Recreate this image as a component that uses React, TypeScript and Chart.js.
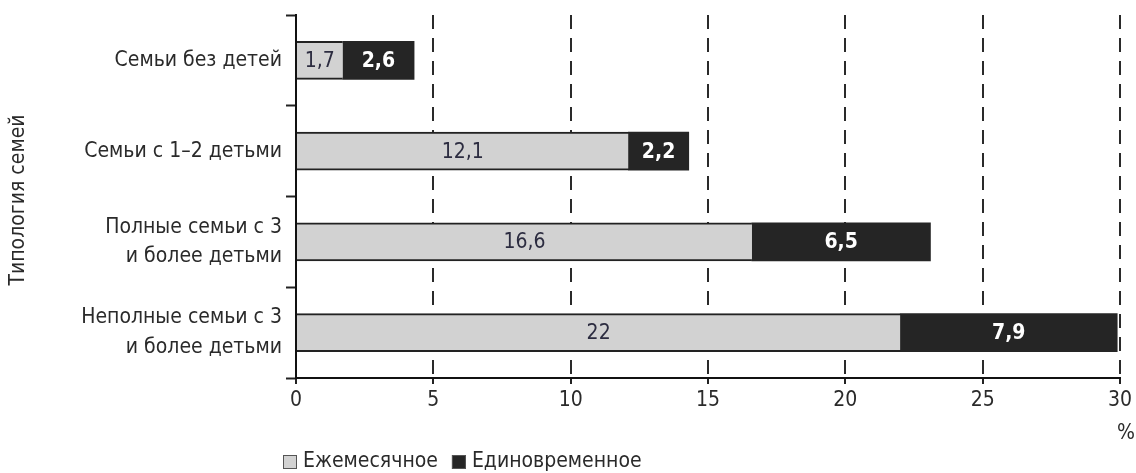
import React, { useEffect, useRef } from "react";
import { Chart, registerables } from "chart.js";

Chart.register(...registerables);

const categories: string[][] = [
  ["Семьи без детей"],
  ["Семьи с 1–2 детьми"],
  ["Полные семьи с 3", "и более детьми"],
  ["Неполные семьи с 3", "и более детьми"],
];
const seriesNames = ["Ежемесячное", "Единовременное"];
const monthly = [1.7, 12.1, 16.6, 22];
const oneTime = [2.6, 2.2, 6.5, 7.9];
const xMin = 0;
const xMax = 30;
const xStep = 5;
const yTitle = "Типология семей";
const unitLabel = "%";

const FONT = '"Liberation Sans Narrow", "DejaVu Sans Condensed", "Liberation Sans", sans-serif';
const GRAY = "#d2d2d2";
const BLACK = "#252525";
const INK = "#2a2a2a";

export default function App() {
  const ref = useRef<HTMLCanvasElement>(null);

  useEffect(() => {
    const canvas = ref.current;
    if (!canvas) return;
    const fmt = (v: number) => String(v).replace(".", ",");

    const overlay = {
      id: "overlay",
      afterDraw(chart: any) {
        const ctx = chart.ctx as CanvasRenderingContext2D;
        // value labels
        chart.data.datasets.forEach((ds: any, di: number) => {
          const meta = chart.getDatasetMeta(di);
          meta.data.forEach((bar: any, i: number) => {
            const v = ds.data[i] as number;
            const p = bar.getProps(["x", "y", "base"], true);
            const cx = (p.x + p.base) / 2;
            ctx.save();
            ctx.font = `${di === 0 ? "normal" : "bold"} 21px ${FONT}`;
            ctx.fillStyle = di === 0 ? "#2c2c40" : "#ffffff";
            ctx.textAlign = "center";
            ctx.textBaseline = "middle";
            ctx.fillText(fmt(v), cx, p.y + 1);
            ctx.restore();
          });
        });
        const area = chart.chartArea;
        // y-axis title
        ctx.save();
        ctx.translate(19, 200);
        ctx.rotate(-Math.PI / 2);
        ctx.font = `21px ${FONT}`;
        ctx.fillStyle = INK;
        ctx.textAlign = "center";
        ctx.textBaseline = "middle";
        ctx.fillText(yTitle, 0, 0);
        ctx.restore();
        // unit label
        ctx.save();
        ctx.font = `21px ${FONT}`;
        ctx.fillStyle = INK;
        ctx.textAlign = "center";
        ctx.textBaseline = "middle";
        ctx.fillText(unitLabel, area.right + 6, 434);
        ctx.restore();
        // legend
        ctx.save();
        ctx.font = `21px ${FONT}`;
        ctx.textBaseline = "middle";
        ctx.textAlign = "left";
        let lx = 283;
        const ly = 462;
        chart.data.datasets.forEach((ds: any) => {
          ctx.fillStyle = ds.backgroundColor;
          ctx.fillRect(lx, ly - 7, 14, 14);
          ctx.strokeStyle = "#555";
          ctx.lineWidth = 1;
          ctx.strokeRect(lx + 0.5, ly - 6.5, 13, 13);
          ctx.fillStyle = INK;
          ctx.fillText(ds.label, lx + 20, ly);
          lx += 20 + ctx.measureText(ds.label).width + 14;
        });
        ctx.restore();
      },
    };

    const chart = new Chart(canvas, {
      type: "bar",
      data: {
        labels: categories,
        datasets: [
          {
            label: seriesNames[0],
            data: monthly,
            backgroundColor: GRAY,
            borderColor: "#222",
            borderWidth: { top: 2, bottom: 2, left: 0, right: 0 } as any,
            borderSkipped: false,
            barThickness: 38,
          },
          {
            label: seriesNames[1],
            data: oneTime,
            backgroundColor: BLACK,
            borderWidth: 0,
            barThickness: 38,
          },
        ],
      },
      options: {
        indexAxis: "y",
        responsive: false,
        animation: false,
        devicePixelRatio: 1,
        layout: { padding: { top: 15, right: 15, left: 0, bottom: 0 } },
        plugins: {
          legend: { display: false },
          tooltip: { enabled: false },
        },
        scales: {
          y: {
            stacked: true,
            afterFit: (s: any) => {
              s.width = 296;
              s.paddingTop = 0;
              s.paddingBottom = 0;
            },
            grid: {
              display: true,
              drawOnChartArea: false,
              drawTicks: true,
              tickLength: 10,
              tickColor: "#222",
              tickWidth: 2,
              offset: true,
            },
            border: { display: true, color: "#111", width: 2 },
            ticks: {
              color: INK,
              font: { family: FONT, size: 21, lineHeight: 1.4 },
              padding: 4,
            },
          },
          x: {
            stacked: true,
            min: xMin,
            max: xMax,
            z: 1,
            afterFit: (s: any) => {
              s.height = 95;
            },
            grid: {
              color: (c: any) => (c.tick && c.tick.value === 0 ? "rgba(0,0,0,0)" : "#2a2a2a"),
              lineWidth: 2,
              drawTicks: true,
              tickLength: 6,
              tickColor: "#222",
              tickWidth: 2,
            },
            border: { display: true, color: "#111", width: 2, dash: [14, 9] },
            ticks: {
              stepSize: xStep,
              color: INK,
              font: { family: FONT, size: 21 },
              padding: 4,
              maxRotation: 0,
            },
          },
        },
      },
      plugins: [overlay],
    } as any);

    return () => chart.destroy();
  }, []);

  return (
    <div style={{ position: "absolute", left: 0, top: 0, width: 1136, height: 473, background: "#fff" }}>
      <canvas ref={ref} width={1136} height={473} style={{ display: "block" }} />
    </div>
  );
}
